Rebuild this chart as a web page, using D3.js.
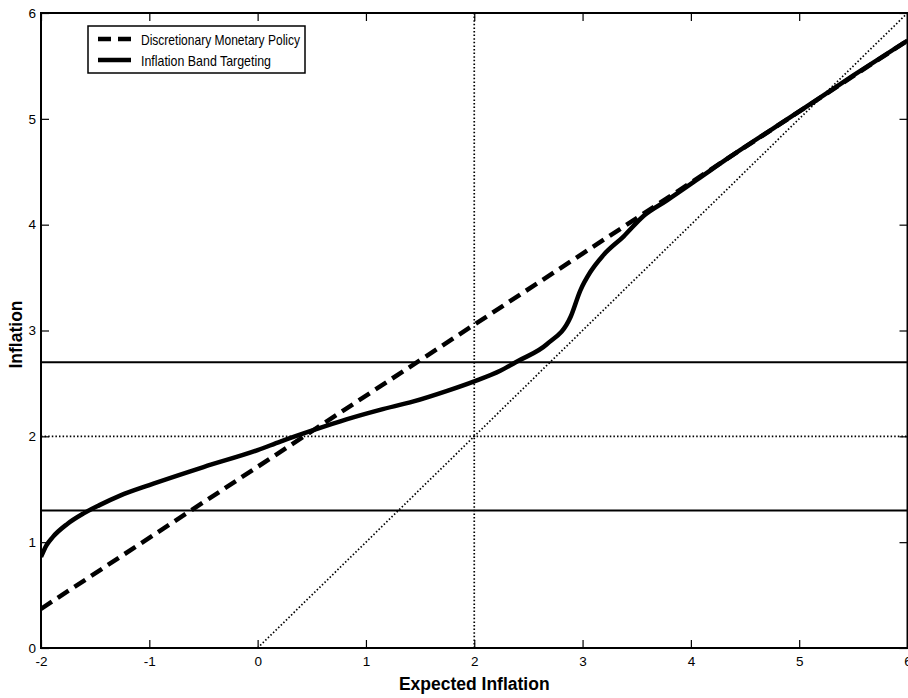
<!DOCTYPE html>
<meta charset="utf-8">
<style>
body { margin: 0; background: #fff; }
text { font-family: "Liberation Sans", Arial, sans-serif; fill: #000; }
.tick text { font-size: 13.5px; }
.title { font-size: 17.5px; font-weight: bold; }
</style>
<svg width="908" height="698"></svg>
<script src="https://d3js.org/d3.v7.min.js"></script>
<script>

// expected inflation (x) and resulting inflation (y)
var bandX = [-2, -1.95, -1.89, -1.76, -1.61, -1.46, -1.27, -1, -0.5, 0, 0.21, 0.52, 0.82, 1.13, 1.44, 1.75, 2, 2.24, 2.4, 2.67, 2.89, 2.98, 3.07, 3.19, 3.38, 3.56, 3.78, 4.05, 4.36, 5, 5.5, 6];
var bandY = [0.86, 0.97, 1.05, 1.17, 1.27, 1.35, 1.44, 1.54, 1.71, 1.87, 1.95, 2.06, 2.16, 2.25, 2.33, 2.43, 2.52, 2.62, 2.71, 2.87, 3.13, 3.38, 3.55, 3.71, 3.89, 4.08, 4.23, 4.42, 4.64, 5.07, 5.41, 5.74];
var discX = [-2, 6];
var discY = [0.37, 5.74];
var diagX = [0, 6];
var diagY = [0, 6];
var target = 2;
var bandLow = 1.3, bandHigh = 2.7;
var xTicks = [-2, -1, 0, 1, 2, 3, 4, 5, 6];
var yTicks = [0, 1, 2, 3, 4, 5, 6];
var legendLabels = ["Discretionary Monetary Policy", "Inflation Band Targeting"];

var svg = d3.select("svg");
var pLeft = 41, pRight = 907.5, pTop = 13, pBottom = 648;

var x = d3.scaleLinear().domain([-2, 6]).range([pLeft, pRight]);
var y = d3.scaleLinear().domain([0, 6]).range([pBottom, pTop]);

svg.append("clipPath").attr("id", "clip")
  .append("rect").attr("x", pLeft).attr("y", pTop).attr("width", pRight - pLeft).attr("height", pBottom - pTop);

var plot = svg.append("g").attr("clip-path", "url(#clip)");

function zip(xs, ys) { return xs.map(function(d, i) { return [d, ys[i]]; }); }

var line = d3.line().x(function(d) { return x(d[0]); }).y(function(d) { return y(d[1]); });
var fmt = function(d) { return String(d); };

// reference lines
plot.append("line")
  .attr("x1", x(target)).attr("x2", x(target)).attr("y1", pTop).attr("y2", pBottom)
  .attr("stroke", "#000").attr("stroke-width", 1.7).attr("stroke-dasharray", "1.5,2.1");
plot.append("line")
  .attr("x1", pLeft).attr("x2", pRight).attr("y1", y(target)).attr("y2", y(target))
  .attr("stroke", "#000").attr("stroke-width", 1.7).attr("stroke-dasharray", "1.5,2.1");
plot.append("path").datum(zip(diagX, diagY)).attr("d", line)
  .attr("fill", "none").attr("stroke", "#000").attr("stroke-width", 1.7).attr("stroke-dasharray", "1.5,2.1");

[bandLow, bandHigh].forEach(function(v) {
  plot.append("line")
    .attr("x1", pLeft).attr("x2", pRight).attr("y1", y(v)).attr("y2", y(v))
    .attr("stroke", "#000").attr("stroke-width", 2);
});

// series
plot.append("path").datum(zip(discX, discY)).attr("d", line)
  .attr("fill", "none").attr("stroke", "#000").attr("stroke-width", 4.5).attr("stroke-dasharray", "13,7");
plot.append("path").datum(zip(bandX, bandY)).attr("d", line.curve(d3.curveMonotoneX))
  .attr("fill", "none").attr("stroke", "#000").attr("stroke-width", 4.5);

// axes with inward ticks, box style
svg.append("g").attr("transform", "translate(0," + pBottom + ")")
  .call(d3.axisBottom(x).tickValues(xTicks).tickFormat(fmt).tickSize(-8).tickPadding(8).tickSizeOuter(0))
  .call(function(g) { g.select(".domain").remove(); });
svg.append("g").attr("transform", "translate(0," + pTop + ")")
  .call(d3.axisTop(x).tickValues(xTicks).tickSize(-8).tickFormat("").tickSizeOuter(0))
  .call(function(g) { g.select(".domain").remove(); });
svg.append("g").attr("transform", "translate(" + pLeft + ",0)")
  .call(d3.axisLeft(y).tickValues(yTicks).tickFormat(fmt).tickSize(-8).tickPadding(5).tickSizeOuter(0))
  .call(function(g) { g.select(".domain").remove(); });
svg.append("g").attr("transform", "translate(" + pRight + ",0)")
  .call(d3.axisRight(y).tickValues(yTicks).tickSize(-8).tickFormat("").tickSizeOuter(0))
  .call(function(g) { g.select(".domain").remove(); });

svg.selectAll(".tick line").attr("stroke", "#000").attr("stroke-width", 1.2);
svg.selectAll(".tick text").attr("fill", "#000");

svg.append("rect").attr("x", pLeft).attr("y", pTop).attr("width", pRight - pLeft).attr("height", pBottom - pTop)
  .attr("fill", "none").attr("stroke", "#000").attr("stroke-width", 2);

// titles
svg.append("text").attr("class", "title").attr("x", x(2)).attr("y", 690)
  .attr("text-anchor", "middle").text("Expected Inflation");
svg.append("text").attr("class", "title")
  .attr("transform", "translate(22," + (y(3) + 4) + ") rotate(-90)")
  .attr("text-anchor", "middle").text("Inflation");

// legend
var lg = svg.append("g");
lg.append("rect").attr("x", 88).attr("y", 26).attr("width", 217).attr("height", 47)
  .attr("fill", "#fff").attr("stroke", "#000").attr("stroke-width", 1.5);
legendLabels.forEach(function(lbl, i) {
  var yy = 39 + i * 21;
  lg.append("line").attr("x1", 98).attr("x2", 131).attr("y1", yy).attr("y2", yy)
    .attr("stroke", "#000").attr("stroke-width", 4.5)
    .attr("stroke-dasharray", i === 0 ? "13,7" : null);
  lg.append("text").attr("x", 141).attr("y", yy + 5.5).style("font-size", "14.5px")
    .attr("textLength", i === 0 ? 159 : 130).attr("lengthAdjust", "spacingAndGlyphs").text(lbl);
});

</script>
